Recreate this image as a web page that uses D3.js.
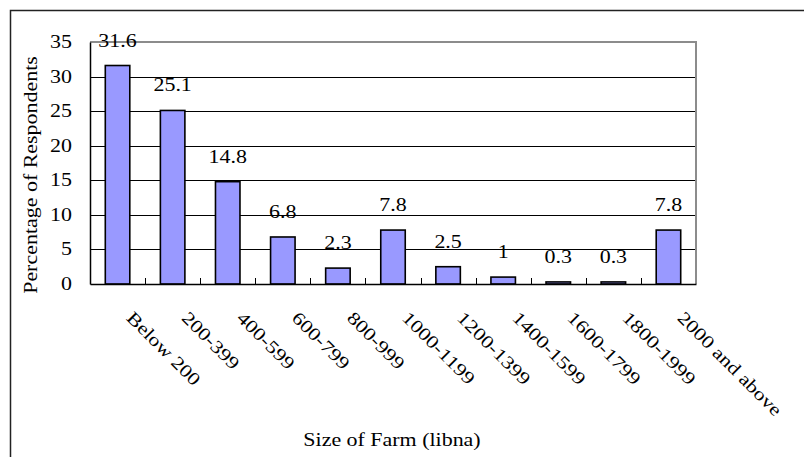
<!DOCTYPE html>
<html>
<head>
<meta charset="utf-8">
<script src="https://cdn.jsdelivr.net/npm/d3@7"></script>
<style>
  html, body { margin: 0; padding: 0; background: #fff; overflow: hidden; }
  svg { display: block; }
  text { font-family: "Liberation Serif", "Times New Roman", serif; fill: #000; }
</style>
</head>
<body>
<svg id="chart" width="804" height="457"></svg>
<script>
const categories = ["Below 200", "200-399", "400-599", "600-799", "800-999", "1000-1199",
                    "1200-1399", "1400-1599", "1600-1799", "1800-1999", "2000 and above"];
const values = [31.6, 25.1, 14.8, 6.8, 2.3, 7.8, 2.5, 1, 0.3, 0.3, 7.8];
const valueLabels = ["31.6", "25.1", "14.8", "6.8", "2.3", "7.8", "2.5", "1", "0.3", "0.3", "7.8"];
const yTicks = [0, 5, 10, 15, 20, 25, 30, 35];
const yTitle = "Percentage of Respondents";
const xTitle = "Size of Farm (libna)";

const svg = d3.select("#chart");
const margin = { left: 90, top: 42, right: 696, bottom: 284 };
const fs = 18, sx = 1.22;

// outer border
svg.append("rect").attr("x", 10.5).attr("y", 10.5).attr("width", 820).attr("height", 460)
  .attr("fill", "#fff").attr("stroke", "#222").attr("stroke-width", 1.5);

const x = d3.scaleBand().domain(categories).range([margin.left, margin.right]).paddingInner(0).paddingOuter(0);
const y = d3.scaleLinear().domain([0, 35]).range([margin.bottom, margin.top]);

// gridlines
svg.append("g").selectAll("line").data(yTicks.filter(t => t > 0 && t < 35)).join("line")
  .attr("x1", margin.left).attr("x2", margin.right)
  .attr("y1", d => Math.round(y(d)) + 0.5).attr("y2", d => Math.round(y(d)) + 0.5)
  .attr("stroke", "#000").attr("stroke-width", 1);

// plot border top/right (gray)
svg.append("path")
  .attr("d", `M${margin.left},${y(35)}H${margin.right}V${margin.bottom}`)
  .attr("fill", "none").attr("stroke", "#8c8c8c").attr("stroke-width", 2);

// bars
const bw = 24.5;
svg.append("g").selectAll("rect").data(values).join("rect")
  .attr("x", (d, i) => x(categories[i]) + x.bandwidth() / 2 - bw / 2)
  .attr("y", d => y(d))
  .attr("width", bw)
  .attr("height", d => y(0) - y(d))
  .attr("fill", "#9999ff").attr("stroke", "#000").attr("stroke-width", 1.6);

// y axis
const yAxis = d3.axisLeft(y).tickValues(yTicks).tickSize(0).tickPadding(0);
const gy = svg.append("g").attr("transform", `translate(${margin.left},0)`).call(yAxis);
gy.select(".domain").attr("stroke", "#000").attr("stroke-width", 1.5);
gy.selectAll(".tick text").remove();
gy.selectAll(".tick").append("text")
  .attr("text-anchor", "end")
  .attr("font-size", fs)
  .attr("transform", `translate(-18,5.5) scale(${sx},1)`)
  .text(d => d);

// x axis
const xAxis = d3.axisBottom(x).tickSize(0).tickFormat("");
const gx = svg.append("g").attr("transform", `translate(0,${margin.bottom})`).call(xAxis);
gx.select(".domain").attr("stroke", "#000").attr("stroke-width", 1.5);
// category boundary tick marks (pointing inward)
gx.append("g").selectAll("line").data(d3.range(1, categories.length)).join("line")
  .attr("x1", i => Math.round(margin.left + i * x.step()) + 0.5)
  .attr("x2", i => Math.round(margin.left + i * x.step()) + 0.5)
  .attr("y1", 0).attr("y2", -6)
  .attr("stroke", "#000").attr("stroke-width", 1);

// rotated category labels
svg.append("g").selectAll("text").data(categories).join("text")
  .attr("font-size", fs)
  .attr("transform", d => `translate(${x(d) + x.bandwidth() / 2 + 8},319) rotate(45) scale(${sx},1)`)
  .text(d => d);

// value labels
svg.append("g").selectAll("text").data(values).join("text")
  .attr("font-size", fs)
  .attr("text-anchor", "middle")
  .attr("transform", (d, i) => `translate(${x(categories[i]) + x.bandwidth() / 2},${y(d) - 19}) scale(${sx},1)`)
  .text((d, i) => valueLabels[i]);

// axis titles
svg.append("text").attr("font-size", fs).attr("text-anchor", "middle")
  .attr("transform", `translate(37,175) rotate(-90) scale(${sx},1)`)
  .text(yTitle);
svg.append("text").attr("font-size", fs).attr("text-anchor", "middle")
  .attr("transform", `translate(392,446) scale(${sx},1)`)
  .text(xTitle);
</script>
</body>
</html>
